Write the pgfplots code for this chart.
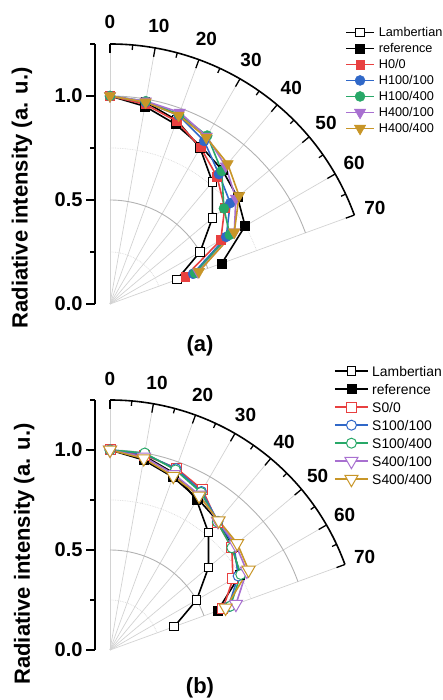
\documentclass[border=0pt]{standalone}
\usepackage{fontspec}
\setmainfont{Liberation Sans}
\usepackage{pgfplots}
\usepackage{pgfplotstable}
\pgfplotsset{compat=1.18}

\definecolor{cred}{RGB}{232,64,64}
\definecolor{cblue}{RGB}{48,104,200}
\definecolor{cgreen}{RGB}{40,168,104}
\definecolor{cpurple}{RGB}{168,112,208}
\definecolor{cgold}{RGB}{200,150,40}

% angle (deg from normal) / radiative intensity
\pgfplotstableread{
a r
0 1.000
10 0.985
20 0.940
30 0.866
40 0.766
50 0.643
60 0.500
70 0.342
}\lamb
\pgfplotstableread{
a r
0 1.000
10 0.965
20 0.920
30 0.875
40 0.840
50 0.800
60 0.750
70 0.572
}\refr
% panel (a)
\pgfplotstableread{
a r
0 1.000
10 0.975
20 0.935
30 0.870
40 0.800
50 0.720
60 0.615
70 0.385
}\Hzz
\pgfplotstableread{
a r
0 1.000
10 0.985
20 0.965
30 0.905
40 0.815
50 0.755
60 0.645
70 0.425
}\Hoo
\pgfplotstableread{
a r
0 1.000
10 0.990
20 0.970
30 0.935
40 0.835
50 0.715
60 0.665
70 0.435
}\Hof
\pgfplotstableread{
a r
0 1.000
10 0.990
20 0.980
30 0.930
40 0.865
50 0.790
60 0.690
70 0.450
}\Hfo
\pgfplotstableread{
a r
0 1.000
10 0.985
20 0.965
30 0.925
40 0.880
50 0.810
60 0.690
70 0.455
}\Hff
% panel (b)
\pgfplotstableread{
a r
0 1.000
10 0.990
20 0.968
30 0.925
40 0.835
50 0.795
60 0.710
70 0.600
}\Szz
\pgfplotstableread{
a r
0 1.000
10 0.995
20 0.965
30 0.915
40 0.840
50 0.810
60 0.740
70 0.630
}\Soo
\pgfplotstableread{
a r
0 1.000
10 1.000
20 0.958
30 0.910
40 0.835
50 0.795
60 0.755
70 0.640
}\Sof
\pgfplotstableread{
a r
0 1.000
10 0.980
20 0.935
30 0.895
40 0.840
50 0.820
60 0.790
70 0.670
}\Sfo
\pgfplotstableread{
a r
0 1.000
10 0.972
20 0.925
30 0.890
40 0.845
50 0.830
60 0.800
70 0.615
}\Sff

\pgfplotsset{
  table/polar/.style={x expr={\thisrow{r}*sin(\thisrow{a})}, y expr={\thisrow{r}*cos(\thisrow{a})}},
  polarbase/.style={
    anchor=origin, clip=false,
    xmin=-#1, xmax=1.2, ymin=0, ymax=1.25,
    axis y line*=left, axis x line=none,
    ytick={0,0.5,1}, minor ytick={0.25,0.75,1.25},
    tick align=outside, major tick length=9pt, minor tick length=5pt,
    every tick/.style={black, line width=1.5pt},
    axis line style={line width=1.6pt},
    yticklabel style={font=\bfseries\fontsize{20}{24}\selectfont,
      /pgf/number format/fixed, /pgf/number format/fixed zerofill,
      /pgf/number format/precision=1, /pgf/number format/assume math mode=true},
    ylabel={Radiative intensity (a. u.)},
    every axis plot/.append style={line width=1.6pt},
  },
}

\newcommand{\polargrid}[3]{%
  \foreach \t in {0,10,...,70}
    \draw[gray!35, line width=0.7pt] (#1) -- ++({90-\t}:{1.25*#2});
  \foreach \rr in {0.25,0.75}
    \draw[gray!30, densely dotted, line width=0.7pt] (#1) ++(0,{\rr*#2}) arc[start angle=90, end angle=20, radius={\rr*#2}];
  \foreach \rr in {0.5,1}
    \draw[gray!60, line width=0.9pt] (#1) ++(0,{\rr*#2}) arc[start angle=90, end angle=20, radius={\rr*#2}];
  \draw[black, line width=1.6pt] (#1) ++(0,{1.25*#2}) arc[start angle=90, end angle=20, radius={1.25*#2}];
  \foreach \t in {0,10,...,70}
    \draw[black, line width=1.3pt] (#1) ++({90-\t}:{1.25*#2}) -- ++({270-\t}:9pt);
  \foreach \t in {5,15,...,65}
    \draw[black, line width=1.3pt] (#1) ++({90-\t}:{1.25*#2}) -- ++({270-\t}:5pt);
  \foreach \t in {0,10,...,70}
    \path (#1) ++({90-\t}:{#3}) node[font=\bfseries\fontsize{19}{22}\selectfont] {\t};
}

\begin{document}
\begin{tikzpicture}
\useasboundingbox (0,0) rectangle (443pt,700pt);
\coordinate (Oa) at (110pt,396pt);
\coordinate (Ob) at (110pt,50pt);

\polargrid{Oa}{208pt}{282pt}
\polargrid{Ob}{200pt}{271pt}

% ---------------- (a) ----------------
\begin{axis}[polarbase=0.072, at={(Oa)}, x=208pt, y=208pt,
  ylabel style={font=\bfseries\fontsize{22}{26}\selectfont, at={(axis description cs:-0.276,0.408)}, anchor=center},
  legend style={at={(axis description cs:0.945,1.073)}, anchor=north west, draw=none, fill=none,
    inner sep=0pt, row sep=1.5pt, column sep=4pt, cells={anchor=west},
    font=\fontsize{12.7}{14}\selectfont,
    nodes={inner sep=0pt, text height=11.75pt, text depth=2.75pt}},
  legend image code/.code={\draw[mark repeat=2, mark phase=2] plot coordinates {(0pt,0pt) (14pt,0pt) (28pt,0pt)};},
]
\addplot[black, mark=square*, mark size=4.3pt, mark options={fill=white, line width=1pt}] table[polar] {\lamb};
\addlegendentry{Lambertian}
\addplot[black, mark=square*, mark size=4.5pt, mark options={line width=0.5pt}] table[polar] {\refr};
\addlegendentry{reference}
\addplot[cred, mark=square*, mark size=4.3pt, mark options={line width=0.5pt}] table[polar] {\Hzz};
\addlegendentry{H0/0}
\addplot[cblue, mark=*, mark size=5pt, mark options={line width=0.5pt}] table[polar] {\Hoo};
\addlegendentry{H100/100}
\addplot[cgreen, mark=*, mark size=5pt, mark options={line width=0.5pt}] table[polar] {\Hof};
\addlegendentry{H100/400}
\addplot[cpurple, mark=triangle*, mark size=6.5pt, mark options={rotate=180, line width=0.5pt}] table[polar] {\Hfo};
\addlegendentry{H400/100}
\addplot[cgold, mark=triangle*, mark size=6.5pt, mark options={rotate=180, line width=0.5pt}] table[polar] {\Hff};
\addlegendentry{H400/400}
\end{axis}

% ---------------- (b) ----------------
\begin{axis}[polarbase=0.075, at={(Ob)}, x=200pt, y=200pt,
  ylabel style={font=\bfseries\fontsize{22}{26}\selectfont, at={(axis description cs:-0.278,0.384)}, anchor=center},
  legend style={at={(axis description cs:0.937,1.149)}, anchor=north west, draw=none, fill=none,
    inner sep=0pt, row sep=1.5pt, column sep=3.5pt, cells={anchor=west},
    font=\fontsize{13.9}{16}\selectfont,
    nodes={inner sep=0pt, text height=13.4pt, text depth=3.1pt}},
  legend image code/.code={\draw[mark repeat=2, mark phase=2] plot coordinates {(0pt,0pt) (16.5pt,0pt) (33pt,0pt)};},
]
\addplot[black, mark=square*, mark size=4.3pt, mark options={fill=white, line width=1pt}] table[polar] {\lamb};
\addlegendentry{Lambertian}
\addplot[black, mark=square*, mark size=4.5pt, mark options={line width=0.5pt}] table[polar] {\refr};
\addlegendentry{reference}
\addplot[cred, mark=square*, mark size=5pt, mark options={fill=white, line width=1pt}] table[polar] {\Szz};
\addlegendentry{S0/0}
\addplot[cblue, mark=*, mark size=5pt, mark options={fill=white, line width=1pt}] table[polar] {\Soo};
\addlegendentry{S100/100}
\addplot[cgreen, mark=*, mark size=5pt, mark options={fill=white, line width=1pt}] table[polar] {\Sof};
\addlegendentry{S100/400}
\addplot[cpurple, mark=triangle*, mark size=7.5pt, mark options={rotate=180, fill=white, line width=1pt}] table[polar] {\Sfo};
\addlegendentry{S400/100}
\addplot[cgold, mark=triangle*, mark size=7.5pt, mark options={rotate=180, fill=white, line width=1pt}] table[polar] {\Sff};
\addlegendentry{S400/400}
\end{axis}

\node[font=\bfseries\fontsize{22}{26}\selectfont] at (200pt,354pt) {(a)};
\node[font=\bfseries\fontsize{22}{26}\selectfont] at (200pt,12pt) {(b)};
\end{tikzpicture}
\end{document}
